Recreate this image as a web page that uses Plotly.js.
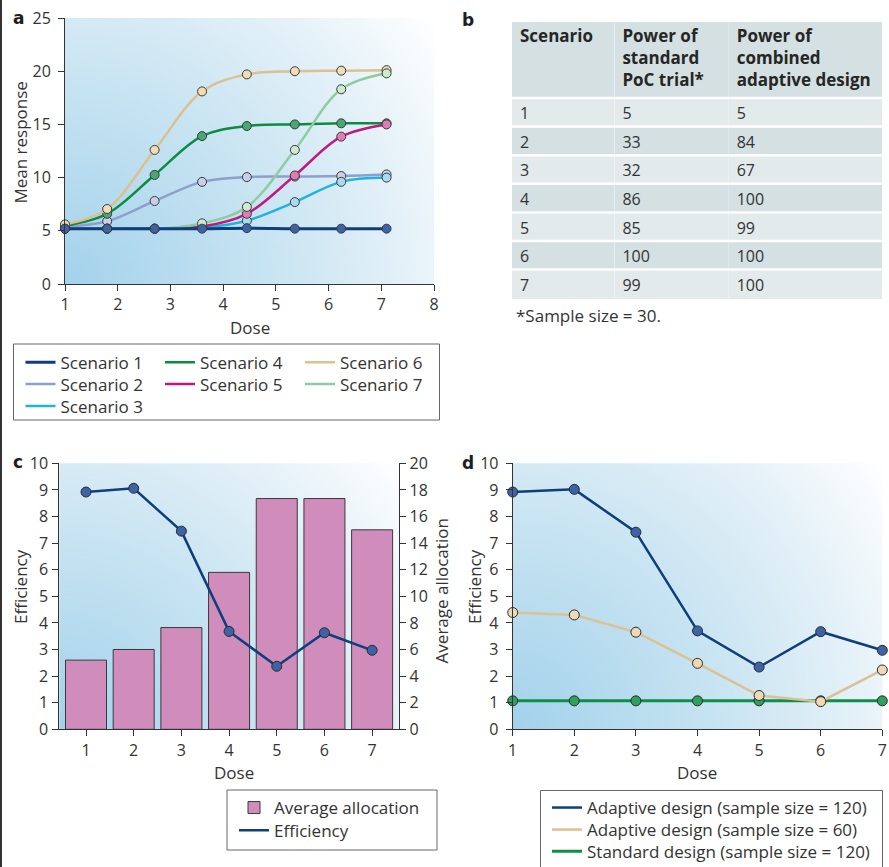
<!DOCTYPE html>
<html><head><meta charset="utf-8">
<script src="https://cdn.plot.ly/plotly-3.0.1.min.js"></script>
<style>html,body{margin:0;padding:0;background:#fff;} #chart{width:889px;height:867px;}</style>
</head><body><div id="chart"></div>
<script>
const W = 889, H = 867;
// ---------- Panel a data ----------
const doseA = [1, 1.8, 2.7, 3.6, 4.45, 5.36, 6.24, 7.1];
const scen1 = [5.2, 5.2, 5.2, 5.2, 5.25, 5.2, 5.2, 5.2];
const scen2 = [5.4, 5.9, 7.8, 9.6, 10.05, 10.1, 10.15, 10.3];
const scen3 = [5.2, 5.2, 5.2, 5.3, 5.95, 7.7, 9.6, 10.0];
const scen4 = [5.5, 6.6, 10.25, 13.9, 14.85, 15.0, 15.1, 15.1];
const scen5 = [5.2, 5.2, 5.2, 5.4, 6.6, 10.2, 13.85, 15.0];
const scen6 = [5.6, 7.05, 12.6, 18.1, 19.7, 20.0, 20.05, 20.1];
const scen7 = [5.2, 5.2, 5.2, 5.7, 7.25, 12.6, 18.3, 19.8];
const scenNames = ['Scenario 1','Scenario 2','Scenario 3','Scenario 4','Scenario 5','Scenario 6','Scenario 7'];
// ---------- Panel b data ----------
const tableHeader = ['<b>Scenario</b>', '<b>Power of<br>standard<br>PoC trial*</b>', '<b>Power of<br>combined<br>adaptive design</b>'];
const scenarioNum = ['1','2','3','4','5','6','7'];
const powerStandard = [5, 33, 32, 86, 85, 100, 99];
const powerAdaptive = [5, 84, 67, 100, 99, 100, 100];
const footnote = '*Sample size = 30.';
// ---------- Panel c data ----------
const doseC = [1, 2, 3, 4, 5, 6, 7];
const avgAllocation = [5.2, 6.0, 7.65, 11.8, 17.35, 17.35, 15.0];
const efficiencyC = [8.92, 9.06, 7.45, 3.68, 2.37, 3.63, 2.97];
// ---------- Panel d data ----------
const doseD = [1, 2, 3, 4, 5, 6, 7];
const effAdaptive120 = [8.92, 9.02, 7.41, 3.70, 2.34, 3.67, 2.97];
const effAdaptive60 = [4.39, 4.30, 3.65, 2.48, 1.27, 1.04, 2.23];
const effStandard120 = [1.07, 1.07, 1.07, 1.07, 1.07, 1.07, 1.07];
const legendD = ['Adaptive design (sample size = 120)', 'Adaptive design (sample size = 60)', 'Standard design (sample size = 120)'];

const FONT = 'Open Sans, Noto Sans, sans-serif';
const LETTER = 'DejaVu Sans, sans-serif';
const TXT = '#333333';
const px = v => v / W;
const py = v => 1 - v / H;

function grad(w, h){
  const c = document.createElement('canvas'); c.width = w; c.height = h;
  const g = c.getContext('2d');
  const r = Math.hypot(w, h);
  const gr = g.createRadialGradient(0, h, 0, 0, h, r);
  gr.addColorStop(0, '#a3d2eb'); gr.addColorStop(0.45, '#c8e4f2');
  gr.addColorStop(0.75, '#e4f1f8'); gr.addColorStop(1, '#ffffff');
  g.fillStyle = gr; g.fillRect(0, 0, w, h);
  return c.toDataURL();
}

const traces = [];
let legIdx = 0;
const legends = {};
function addLegend(x, y){
  legIdx++;
  const id = legIdx === 1 ? 'legend' : 'legend' + legIdx;
  legends[id] = {x: px(x), y: py(y), xanchor: 'left', yanchor: 'middle', bgcolor: 'rgba(0,0,0,0)',
    borderwidth: 0, font: {family: FONT, size: 17, color: TXT}, orientation: 'v'};
  return id;
}

// Panel a
const scenData = [scen1, scen2, scen3, scen4, scen5, scen6, scen7];
const lineCol = ['#0f3e7c','#8d9fcc','#22b2e0','#0b8c42','#bf1a80','#dcc08f','#8fcba0'];
const markCol = ['#3d62a6','#c9cfea','#a5dcf2','#4aa673','#e07cb4','#f2dcb4','#cdeccf'];
const legPosA = [[20.5,362.7],[20.5,384.5],[20.5,406.5],[160,362.7],[160,384.5],[300,362.7],[300,384.5]];
const drawOrder = [1,2,3,4,5,6,0];
drawOrder.forEach(i => {
  traces.push({x: doseA, y: scenData[i], type: 'scatter', mode: 'lines', name: scenNames[i],
    line: {color: lineCol[i], width: i === 0 ? 3 : 2.5, shape: 'spline', smoothing: 1},
    xaxis: 'x', yaxis: 'y', legend: addLegend(legPosA[i][0], legPosA[i][1]), hoverinfo: 'skip'});
  traces.push({x: doseA, y: scenData[i], type: 'scatter', mode: 'markers', showlegend: false,
    marker: {color: markCol[i], size: 9, line: {color: '#3a3a3a', width: 1}}, cliponaxis: false,
    xaxis: 'x', yaxis: 'y'});
});

// Panel b table
const rowFill = scenarioNum.map((_, i) => i % 2 === 0 ? '#e2eaeb' : '#d4e0e2');
const tblTop = 16, visTop = 22, hdrH = 82, rowH = 28.6, tblL = 512, tblR = 883;
traces.push({type: 'table', domain: {x: [px(tblL), px(tblR)], y: [py(310), py(tblTop)]},
  columnwidth: [102.7, 114.6, 153.7],
  header: {values: tableHeader, align: 'left', height: hdrH, fill: {color: '#d4e0e2'}, line: {width: 0},
    font: {family: FONT, size: 17, color: '#262626'}},
  cells: {values: [scenarioNum, powerStandard, powerAdaptive], align: 'left', height: rowH,
    fill: {color: [rowFill, rowFill, rowFill]}, line: {width: 0},
    font: {family: FONT, size: 16, color: TXT}}});

// Panel c
traces.push({x: doseC, y: avgAllocation, type: 'bar', name: 'Average allocation', xaxis: 'x2', yaxis: 'y2',
  marker: {color: '#d08cbb', line: {color: '#3a3a3a', width: 1}}, legend: addLegend(234, 808)});
traces.push({x: doseC, y: efficiencyC, type: 'scatter', mode: 'lines', name: 'Efficiency', xaxis: 'x2', yaxis: 'y3',
  line: {color: '#0f3e7c', width: 2.5}, legend: addLegend(234, 830.7)});
traces.push({x: doseC, y: efficiencyC, type: 'scatter', mode: 'markers', showlegend: false, xaxis: 'x2', yaxis: 'y3',
  marker: {color: '#3d62a6', size: 10, line: {color: '#2a2a2a', width: 1}}, cliponaxis: false});

// Panel d
const dSeries = [effAdaptive120, effAdaptive60, effStandard120];
const dLine = ['#0f3e7c', '#dcc195', '#0e8f47'];
const dMark = ['#3d62a6', '#efd9b4', '#2fa060'];
const dLegY = [808, 830, 851.7];
[2,1,0].forEach(i => {
  traces.push({x: doseD, y: dSeries[i], type: 'scatter', mode: 'lines', name: legendD[i], xaxis: 'x3', yaxis: 'y4',
    line: {color: dLine[i], width: i === 2 ? 3 : 2.5}, legend: addLegend(547, dLegY[i])});
  traces.push({x: doseD, y: dSeries[i], type: 'scatter', mode: 'markers', showlegend: false, xaxis: 'x3', yaxis: 'y4',
    marker: {color: dMark[i], size: 10, line: {color: '#2a2a2a', width: 1}}, cliponaxis: false});
});

const axBase = {showgrid: false, zeroline: false, showline: true, linecolor: '#333', linewidth: 1,
  ticks: 'outside', ticklen: 6, tickcolor: '#333', tickwidth: 1,
  tickfont: {family: FONT, size: 16, color: TXT}, fixedrange: true};

const ann = (text, x, y, opts) => Object.assign({text, x: px(x), y: py(y), xref: 'paper', yref: 'paper',
  showarrow: false, font: {family: FONT, size: 17, color: TXT}, xanchor: 'center', yanchor: 'middle'}, opts || {});
const letterFont = {family: LETTER, size: 17, color: '#1e1e1e'};

const annotations = [
  ann('<b>a</b>', 18.5, 18, {font: letterFont}),
  ann('<b>b</b>', 468, 20, {font: letterFont}),
  ann('<b>c</b>', 18, 462, {font: letterFont}),
  ann('<b>d</b>', 468.5, 463, {font: letterFont}),
  ann('Dose', 249.5, 327),
  ann('Mean response', 20.5, 143, {textangle: -90}),
  ann('Dose', 234, 772),
  ann('Efficiency', 20, 587, {textangle: -90}),
  ann('Average allocation', 441.7, 590.7, {textangle: -90}),
  ann('Efficiency', 474, 587, {textangle: -90}),
  ann('Dose', 697, 772),
  ann(footnote, 514, 315, {xanchor: 'left'})
];

const shapes = [];
// white cover above header band, and white row separators in table
shapes.push({type: 'rect', xref: 'paper', yref: 'paper', x0: px(tblL - 2), x1: px(tblR + 2), y0: py(visTop), y1: py(tblTop - 2),
  line: {width: 0}, fillcolor: '#ffffff', layer: 'above'});
for (let k = 0; k < scenarioNum.length; k++) {
  const yy = tblTop + hdrH + k * rowH;
  shapes.push({type: 'line', xref: 'paper', yref: 'paper', x0: px(tblL), x1: px(tblR), y0: py(yy), y1: py(yy),
    line: {color: '#ffffff', width: 2.5}, layer: 'above'});
}
// legend boxes
const box = (x0, y0, x1, y1) => ({type: 'rect', xref: 'paper', yref: 'paper', x0: px(x0), x1: px(x1), y0: py(y1), y1: py(y0),
  line: {color: '#666', width: 1}, fillcolor: 'rgba(0,0,0,0)', layer: 'above'});
shapes.push(box(13.5, 344, 439.5, 420));
shapes.push(box(227, 790, 437, 850));
shapes.push(box(540.5, 790.5, 882.5, 880));
// left border line
shapes.push({type: 'line', xref: 'paper', yref: 'paper', x0: px(1), x1: px(1), y0: 0, y1: 1, line: {color: '#333', width: 2}});

const img = (xr, yr, w, h) => ({source: grad(w, h), xref: xr + ' domain', yref: yr + ' domain', x: 0, y: 1,
  sizex: 1, sizey: 1, sizing: 'stretch', xanchor: 'left', yanchor: 'top', layer: 'below'});

const layout = Object.assign({
  width: W, height: H,
  margin: {l: 0, r: 0, t: 0, b: 0, autoexpand: false},
  paper_bgcolor: '#ffffff', plot_bgcolor: 'rgba(0,0,0,0)',
  font: {family: FONT, color: TXT},
  showlegend: true,
  bargap: 0.14,
  xaxis: Object.assign({}, axBase, {domain: [px(65), px(434)], range: [1, 8], dtick: 1, tick0: 1, anchor: 'y'}),
  yaxis: Object.assign({}, axBase, {domain: [py(284), py(18)], range: [0, 25], dtick: 5, anchor: 'x', ticklabelstandoff: 4}),
  xaxis2: Object.assign({}, axBase, {domain: [px(59.3), px(399.3)], range: [0.44, 7.57], tickvals: doseC, anchor: 'y2'}),
  yaxis2: Object.assign({}, axBase, {domain: [py(729.3), py(463.3)], range: [0, 20], dtick: 2, side: 'right', anchor: 'x2'}),
  yaxis3: Object.assign({}, axBase, {range: [0, 10], dtick: 1, side: 'left', overlaying: 'y2', anchor: 'x2', ticklabelstandoff: 1}),
  xaxis3: Object.assign({}, axBase, {domain: [px(512.7), px(882.3)], range: [1, 7], dtick: 1, anchor: 'y4'}),
  yaxis4: Object.assign({}, axBase, {domain: [py(729.3), py(463.3)], range: [0, 10], dtick: 1, anchor: 'x3', ticklabelstandoff: 4}),
  annotations, shapes,
  images: [img('x', 'y', 369, 266), img('x2', 'y2', 340, 266), img('x3', 'y4', 370, 266)]
}, legends);

Plotly.newPlot('chart', traces, layout, {displayModeBar: false, staticPlot: true});
</script></body></html>
